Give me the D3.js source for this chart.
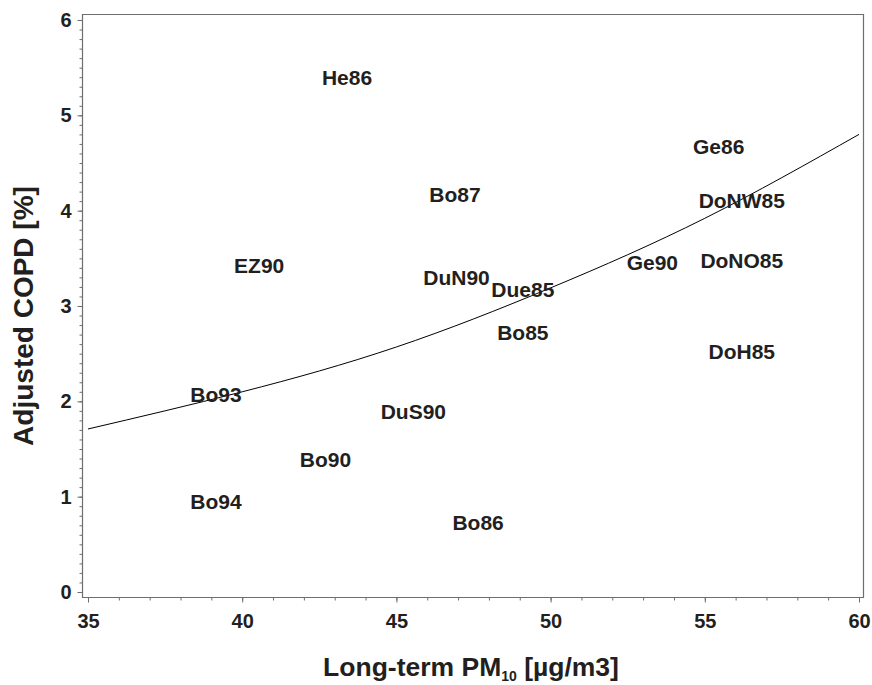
<!DOCTYPE html>
<html>
<head>
<meta charset="utf-8">
<script src="https://cdn.jsdelivr.net/npm/d3@7"></script>
<style>
  body { margin: 0; background: #fff; }
  svg text { font-family: "Liberation Sans", Arial, sans-serif; font-weight: bold; fill: #231f20; }
</style>
</head>
<body>
<div id="chart"></div>
<script>
// Study labels and their positions (PM10 vs adjusted COPD)
const studies = ["He86", "Bo87", "EZ90", "DuN90", "Due85", "Bo85", "Ge86", "DoNW85", "DoNO85", "Ge90", "DoH85", "Bo93", "DuS90", "Bo90", "Bo94", "Bo86"];
const pm10 = [43.4, 46.9, 40.55, 46.95, 49.1, 49.1, 55.45, 56.2, 56.2, 53.3, 56.2, 39.15, 45.55, 42.7, 39.15, 47.65];
const copd = [5.40, 4.17, 3.43, 3.30, 3.17, 2.72, 4.67, 4.11, 3.48, 3.46, 2.52, 2.07, 1.89, 1.39, 0.95, 0.73];

// Fitted curve at every 5 units
const fitX = [35, 40, 45, 50, 55, 60];
const fitY = [1.71, 2.10, 2.57, 3.19, 3.92, 4.80];

const xTicks = [35, 40, 45, 50, 55, 60];
const yTicks = [0, 1, 2, 3, 4, 5, 6];

const width = 872;
const height = 685;

// Plot frame edges
const frameLeft = 82.5;
const frameRight = 863.5;
const frameTop = 14.5;
const frameBottom = 597.5;

const x = d3.scaleLinear().domain([35, 60]).range([88, 859]);
const y = d3.scaleLinear().domain([0, 6]).range([592, 20]);

const svg = d3.select("#chart").append("svg")
    .attr("width", width)
    .attr("height", height)
    .attr("viewBox", [0, 0, width, height]);

// Frame (top and right sides, axes draw left and bottom)
svg.append("path")
    .attr("d", `M${frameLeft},${frameTop}H${frameRight}V${frameBottom}H${frameLeft}Z`)
    .attr("fill", "none")
    .attr("stroke", "#6d6e71")
    .attr("stroke-width", 1.2);

// Minor ticks
const xMinor = d3.range(35, 60.01, 1);
const yMinor = d3.range(0, 6.001, 0.1);

svg.append("g")
    .attr("transform", `translate(0,${frameBottom})`)
    .call(d3.axisBottom(x).tickValues(xMinor).tickSize(3).tickFormat(""))
    .call(g => g.select(".domain").remove())
    .call(g => g.selectAll("line").attr("stroke", "#6d6e71"));

svg.append("g")
    .attr("transform", `translate(${frameLeft},0)`)
    .call(d3.axisLeft(y).tickValues(yMinor).tickSize(3).tickFormat(""))
    .call(g => g.select(".domain").remove())
    .call(g => g.selectAll("line").attr("stroke", "#6d6e71"));

// Major ticks
svg.append("g")
    .attr("transform", `translate(0,${frameBottom})`)
    .call(d3.axisBottom(x).tickValues(xTicks).tickSize(5).tickPadding(11))
    .call(g => g.select(".domain").remove())
    .call(g => g.selectAll("line").attr("stroke", "#6d6e71"))
    .call(g => g.selectAll("text").attr("font-size", 20).attr("fill", "#231f20"));

svg.append("g")
    .attr("transform", `translate(${frameLeft},0)`)
    .call(d3.axisLeft(y).tickValues(yTicks).tickFormat(d3.format("d")).tickSize(5).tickPadding(6))
    .call(g => g.select(".domain").remove())
    .call(g => g.selectAll("line").attr("stroke", "#6d6e71"))
    .call(g => g.selectAll("text").attr("font-size", 20).attr("fill", "#231f20"));

// Fitted curve
const line = d3.line()
    .x(d => x(d[0]))
    .y(d => y(d[1]))
    .curve(d3.curveNatural);

svg.append("path")
    .datum(d3.zip(fitX, fitY))
    .attr("d", line)
    .attr("fill", "none")
    .attr("stroke", "#000")
    .attr("stroke-width", 1);

// Study labels
svg.append("g")
  .selectAll("text")
  .data(d3.zip(studies, pm10, copd))
  .join("text")
    .attr("x", d => x(d[1]))
    .attr("y", d => y(d[2]))
    .attr("dy", "0.36em")
    .attr("text-anchor", "middle")
    .attr("font-size", 21)
    .text(d => d[0]);

// Axis titles
const xTitle = svg.append("text")
    .attr("x", 471)
    .attr("y", 676)
    .attr("text-anchor", "middle")
    .attr("font-size", 26.5);
xTitle.append("tspan").text("Long-term PM");
xTitle.append("tspan").attr("font-size", 14).attr("dy", 5).text("10");
xTitle.append("tspan").attr("dy", -5).text(" [µg/m3]");

svg.append("text")
    .attr("transform", "translate(33,316) rotate(-90)")
    .attr("text-anchor", "middle")
    .attr("font-size", 28)
    .text("Adjusted COPD [%]");
</script>
</body>
</html>
